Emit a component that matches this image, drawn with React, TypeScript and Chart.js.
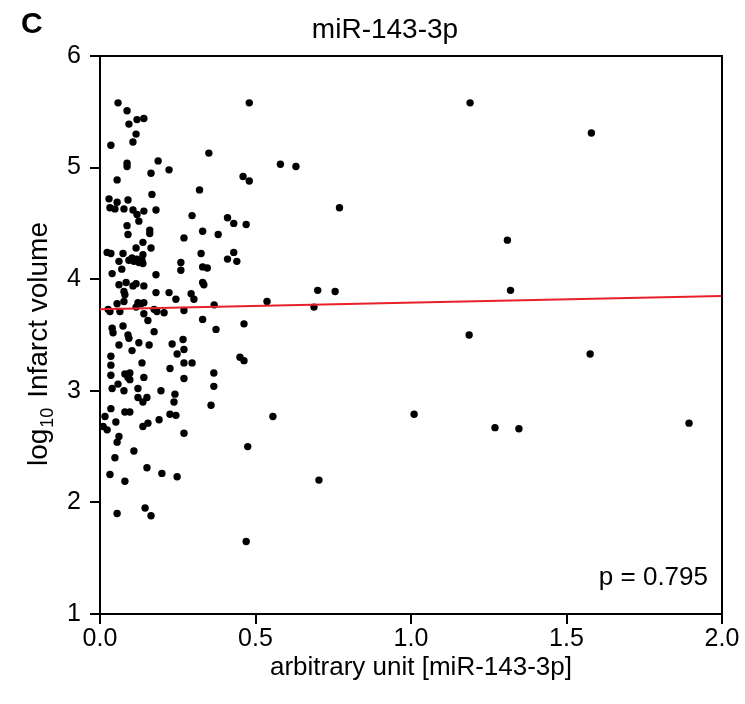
import React, { useEffect, useRef } from "react";
import { Chart, registerables } from "chart.js";

Chart.register(...registerables);

const chartTitle = "miR-143-3p";
const panelLabel = "C";
const xAxisLabel = "arbitrary unit [miR-143-3p]";
const yAxisMain = "log";
const yAxisSub = "10";
const yAxisRest = " Infarct volume";
const pValueText = "p = 0.795";

const xTicks = [0, 0.5, 1.0, 1.5, 2.0];
const yTicks = [1, 2, 3, 4, 5, 6];

const fitX = [0, 2];
const fitY = [3.73, 3.85];

const xs = [
  0.48, 1.19, 1.58, 0.35, 0.58, 0.63, 0.46, 0.48, 0.32, 0.77, 0.41, 0.43, 0.47, 0.33, 0.38, 0.325, 0.43, 0.41, 0.44, 0.33,
  0.345, 0.33, 0.334, 0.70, 0.756, 1.32, 1.31, 0.367, 0.537, 0.688, 0.33, 0.373, 0.463, 1.187, 1.576, 0.45, 0.463, 0.366, 0.366, 0.357,
  0.556, 1.01, 1.27, 1.347, 1.894, 0.475, 0.704, 0.47,
  0.058, 0.087, 0.093, 0.119, 0.141, 0.116, 0.106, 0.035, 0.087, 0.087, 0.187, 0.164, 0.222, 0.055, 0.167, 0.029, 0.055, 0.09, 0.032, 0.048,
  0.077, 0.106, 0.119, 0.141, 0.18, 0.125, 0.296, 0.087, 0.16,
  0.09, 0.16, 0.27, 0.138, 0.164, 0.116, 0.023, 0.035, 0.074, 0.061, 0.093, 0.103, 0.109, 0.119, 0.125, 0.138, 0.135, 0.138, 0.26, 0.26,
  0.07, 0.039, 0.18, 0.061, 0.084, 0.116, 0.106, 0.141, 0.077, 0.08, 0.077, 0.18, 0.222, 0.244, 0.293, 0.302, 0.055, 0.026, 0.032, 0.064,
  0.122, 0.132, 0.141, 0.116, 0.174, 0.183, 0.206, 0.141, 0.154, 0.27,
  0.039, 0.042, 0.074, 0.09, 0.093, 0.174, 0.061, 0.125, 0.158, 0.232, 0.267, 0.27, 0.248, 0.103, 0.035,
  0.035, 0.135, 0.27, 0.296, 0.035, 0.08, 0.096, 0.09, 0.096, 0.141, 0.225, 0.27, 0.058, 0.039, 0.077, 0.122, 0.196, 0.241, 0.122, 0.138,
  0.151, 0.238, 0.035, 0.08, 0.096, 0.225, 0.244, 0.016, 0.19, 0.051, 0.01, 0.023, 0.138, 0.154, 0.27, 0.061, 0.055, 0.109, 0.048, 0.151,
  0.032, 0.199, 0.248, 0.08, 0.055, 0.145, 0.164,
];

const ys = [
  5.58, 5.58, 5.31, 5.13, 5.03, 5.01, 4.92, 4.88, 4.80, 4.64, 4.55, 4.50, 4.49, 4.43, 4.40, 4.23, 4.24, 4.18, 4.16, 4.11,
  4.10, 3.97, 3.95, 3.90, 3.89, 3.90, 4.35, 3.77, 3.80, 3.75, 3.64, 3.55, 3.60, 3.50, 3.33, 3.30, 3.27, 3.16, 3.04, 2.87,
  2.77, 2.79, 2.67, 2.66, 2.71, 2.50, 2.20, 1.65,
  5.58, 5.51, 5.39, 5.43, 5.44, 5.30, 5.23, 5.20, 5.04, 5.01, 5.06, 4.95, 4.98, 4.89, 4.76, 4.72, 4.69, 4.71, 4.64, 4.63,
  4.63, 4.62, 4.58, 4.61, 4.62, 4.52, 4.57, 4.48, 4.44,
  4.40, 4.41, 4.37, 4.33, 4.28, 4.28, 4.24, 4.23, 4.23, 4.16, 4.17, 4.19, 4.16, 4.18, 4.15, 4.22, 4.17, 4.14, 4.15, 4.08,
  4.09, 4.05, 4.04, 3.95, 3.97, 3.96, 3.94, 3.94, 3.89, 3.86, 3.80, 3.88, 3.88, 3.82, 3.87, 3.82, 3.78, 3.73, 3.71, 3.71,
  3.79, 3.78, 3.79, 3.75, 3.73, 3.71, 3.70, 3.69, 3.63, 3.72,
  3.56, 3.52, 3.58, 3.50, 3.47, 3.53, 3.41, 3.43, 3.41, 3.42, 3.46, 3.37, 3.33, 3.36, 3.31,
  3.23, 3.25, 3.25, 3.25, 3.14, 3.15, 3.16, 3.12, 3.10, 3.12, 3.20, 3.11, 3.06, 3.02, 3.00, 3.02, 3.00, 2.97, 2.94, 2.90,
  2.94, 2.90, 2.84, 2.81, 2.81, 2.79, 2.78, 2.77, 2.74, 2.72, 2.68, 2.65, 2.68, 2.71, 2.62, 2.59, 2.54, 2.46, 2.40, 2.31,
  2.25, 2.26, 2.23, 2.19, 1.90, 1.95, 1.88,
];

const FONT = "'Liberation Sans', Arial, Helvetica, sans-serif";

export default function App() {
  const ref = useRef<HTMLCanvasElement>(null);

  useEffect(() => {
    const canvas = ref.current;
    if (!canvas) return;

    const points = xs.map((x, i) => ({ x, y: ys[i] }));
    const fitLine = fitX.map((x, i) => ({ x, y: fitY[i] }));

    const decor = {
      id: "decor",
      afterDatasetsDraw(chart: any) {
        const { ctx, chartArea } = chart;
        const { left, right, top, bottom } = chartArea;
        ctx.save();
        ctx.strokeStyle = "#000";
        ctx.lineWidth = 2;
        ctx.beginPath();
        ctx.moveTo(left - 1, top);
        ctx.lineTo(right, top);
        ctx.lineTo(right, bottom);
        ctx.stroke();

        ctx.fillStyle = "#000";
        ctx.font = `bold 30px ${FONT}`;
        ctx.textAlign = "left";
        ctx.textBaseline = "middle";
        ctx.fillText(panelLabel, 21, 25);
        ctx.font = `28px ${FONT}`;
        ctx.textAlign = "center";
        ctx.fillText(chartTitle, 385, 30);
        ctx.font = `26px ${FONT}`;
        ctx.textAlign = "right";
        ctx.fillText(pValueText, right - 14, 578);
        ctx.textAlign = "center";
        ctx.fillText(xAxisLabel, 421, 668);

        ctx.translate(38, 344);
        ctx.rotate(-Math.PI / 2);
        ctx.textAlign = "left";
        ctx.textBaseline = "alphabetic";
        const mainFont = `28px ${FONT}`;
        const subFont = `18px ${FONT}`;
        ctx.font = mainFont;
        const w1 = ctx.measureText(yAxisMain).width;
        const w3 = ctx.measureText(yAxisRest).width;
        ctx.font = subFont;
        const w2 = ctx.measureText(yAxisSub).width + 3;
        const total = w1 + w2 + w3;
        let x0 = -total / 2;
        const base = 9;
        ctx.font = mainFont;
        ctx.fillText(yAxisMain, x0, base);
        x0 += w1;
        ctx.font = subFont;
        ctx.fillText(yAxisSub, x0 + 1, base + 6);
        x0 += w2;
        ctx.font = mainFont;
        ctx.fillText(yAxisRest, x0, base);
        ctx.restore();
      },
    };

    const chart = new Chart(canvas, {
      type: "scatter",
      data: {
        datasets: [
          {
            type: "line",
            data: fitLine,
            borderColor: "#e8202a",
            borderWidth: 2,
            pointRadius: 0,
            fill: false,
            order: 0,
          } as any,
          {
            data: points,
            backgroundColor: "#000",
            borderWidth: 0,
            pointRadius: 3.7,
            clip: false,
            order: 1,
          } as any,
        ],
      },
      options: {
        animation: false,
        responsive: false,
        maintainAspectRatio: false,
        layout: { padding: { left: 0, right: 23, top: 56, bottom: 0 } },
        plugins: { legend: { display: false }, tooltip: { enabled: false }, title: { display: false } },
        scales: {
          x: {
            type: "linear",
            min: 0,
            max: 2,
            afterFit: (s: any) => {
              s.height = 90;
            },
            afterBuildTicks: (s: any) => {
              s.ticks = xTicks.map((v) => ({ value: v }));
            },
            ticks: {
              color: "#000",
              font: { family: FONT, size: 25 },
              padding: 0,
              maxRotation: 0,
              callback: (v: any) => Number(v).toFixed(1),
            },
            grid: { display: true, drawOnChartArea: false, drawTicks: true, tickLength: 10, color: "#000", lineWidth: 2 },
            border: { display: true, color: "#000", width: 2 },
          },
          y: {
            type: "linear",
            min: 1,
            max: 6,
            afterFit: (s: any) => {
              s.width = 100;
            },
            afterBuildTicks: (s: any) => {
              s.ticks = yTicks.map((v) => ({ value: v }));
            },
            ticks: {
              color: "#000",
              font: { family: FONT, size: 25 },
              padding: 9,
              callback: (v: any) => String(v),
            },
            grid: { display: true, drawOnChartArea: false, drawTicks: true, tickLength: 10, color: "#000", lineWidth: 2 },
            border: { display: true, color: "#000", width: 2 },
          },
        },
      },
      plugins: [decor],
    });

    return () => chart.destroy();
  }, []);

  return (
    <div style={{ position: "fixed", left: 0, top: 0, width: 745, height: 704, background: "#fff" }}>
      <canvas ref={ref} width={745} height={704} style={{ width: 745, height: 704, display: "block" }} />
    </div>
  );
}
